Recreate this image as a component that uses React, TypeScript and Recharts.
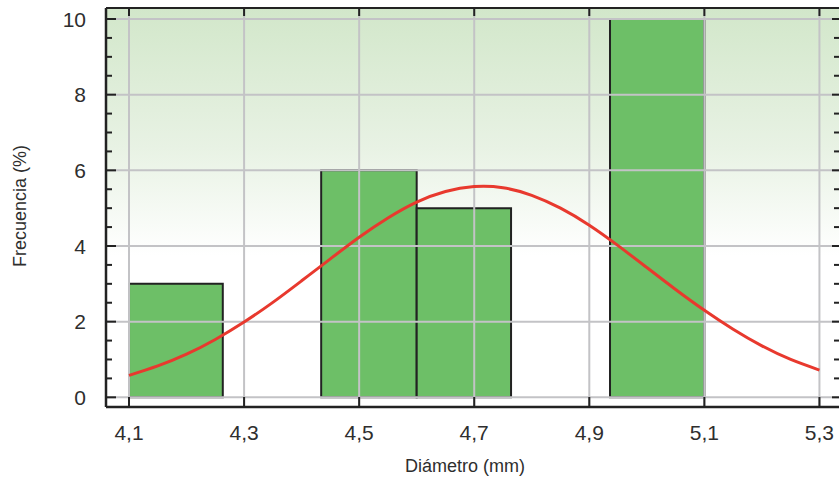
import {
  ComposedChart,
  Label,
  Line,
  ReferenceArea,
  ReferenceLine,
  XAxis,
  YAxis,
} from "recharts";

// diameter axis (mm)
const diamTicks = [4.1, 4.3, 4.5, 4.7, 4.9, 5.1, 5.3];
const diamLabels = ["4,1", "4,3", "4,5", "4,7", "4,9", "5,1", "5,3"];

// frequency axis (%)
const freqTicks = [0, 2, 4, 6, 8, 10];
const freqMinor = [0.5, 1, 1.5, 2.5, 3, 3.5, 4.5, 5, 5.5, 6.5, 7, 7.5, 8.5, 9, 9.5];

// histogram bins
const binStart = [4.1, 4.263, 4.434, 4.6, 4.764, 4.936];
const binEnd = [4.263, 4.434, 4.6, 4.764, 4.936, 5.1];
const binFreq = [3, 0, 6, 5, 0, 10];

// fitted normal curve
const curveDiam = [
  4.1, 4.15, 4.2, 4.25, 4.3, 4.35, 4.4, 4.45, 4.5, 4.55, 4.6, 4.65, 4.7,
  4.75, 4.8, 4.85, 4.9, 4.95, 5.0, 5.05, 5.1, 5.15, 5.2, 5.25, 5.3,
];
const curveFreq = [
  0.58, 0.83, 1.14, 1.53, 1.99, 2.51, 3.08, 3.66, 4.23, 4.74, 5.16, 5.44, 5.57,
  5.54, 5.34, 5.0, 4.55, 4.01, 3.43, 2.85, 2.3, 1.8, 1.36, 1.0, 0.72,
];

const X_MIN = 4.06;
const X_MAX = 5.334;
const Y_MIN = -0.256;
const Y_MAX = 10.291;

// plot box in px (left axis width / top margin / bottom axis height)
const PLOT_LEFT = 106;
const PLOT_TOP = 8;
const PLOT_W = 733;
const PLOT_H = 399;

const FONT = "'Liberation Sans', Arial, sans-serif";
const TEXT = "#2e2e2e";
const FRAME = "#222";
const GRID = "#c3c3c6";

const curveData = curveDiam.map((d, i) => ({ diam: d, freq: curveFreq[i] }));
const allFreqTicks = [...freqTicks, ...freqMinor].sort((a, b) => a - b);

// left tick: inward mark + label, plus the matching mark on the right edge
const LeftTick = (props: any) => {
  const { x, y, payload } = props;
  const major = freqTicks.includes(payload.value);
  const rx = x + PLOT_W;
  return (
    <g>
      <line x1={x} x2={x + (major ? 10 : 6)} y1={y} y2={y} stroke={FRAME} strokeWidth={2} />
      <line x1={rx} x2={rx - (major ? 7 : 5)} y1={y} y2={y} stroke={FRAME} strokeWidth={2} />
      {major && (
        <text x={x - 20} y={y} dy="0.36em" textAnchor="end" fontSize={21} fontFamily={FONT} fill={TEXT}>
          {payload.value}
        </text>
      )}
    </g>
  );
};

// bottom tick: inward mark + label, plus the matching mark on the top edge
const BottomTick = (props: any) => {
  const { x, y, payload } = props;
  const i = diamTicks.indexOf(payload.value);
  return (
    <g>
      <line x1={x} x2={x} y1={y} y2={y - 10} stroke={FRAME} strokeWidth={2} />
      <line x1={x} x2={x} y1={PLOT_TOP} y2={PLOT_TOP + 8} stroke={FRAME} strokeWidth={2} />
      <text x={x} y={y + 25} dy="0.36em" textAnchor="middle" fontSize={21} fontFamily={FONT} fill={TEXT}>
        {diamLabels[i]}
      </text>
    </g>
  );
};

export default function App() {
  return (
    <div style={{ position: "absolute", left: 0, top: 0, background: "#fff" }}>
      <ComposedChart
        width={840}
        height={481}
        data={curveData}
        margin={{ top: PLOT_TOP, right: 840 - PLOT_LEFT - PLOT_W, bottom: 0, left: 0 }}
      >
        <defs>
          <linearGradient id="plotBg" x1="0" y1="0" x2="0" y2="1">
            <stop offset="0" stopColor="#d2e7ca" />
            <stop offset="0.35" stopColor="#e8f2e4" />
            <stop offset="0.62" stopColor="#ffffff" />
            <stop offset="1" stopColor="#ffffff" />
          </linearGradient>
        </defs>

        <XAxis
          dataKey="diam"
          type="number"
          domain={[X_MIN, X_MAX]}
          allowDataOverflow
          ticks={diamTicks}
          interval={0}
          height={481 - PLOT_TOP - PLOT_H}
          tickSize={0}
          tickMargin={0}
          tick={<BottomTick />}
          axisLine={{ stroke: FRAME, strokeWidth: 2.5 }}
        >
          <Label
            content={() => (
              <text
                x={465}
                y={466}
                textAnchor="middle"
                dominantBaseline="central"
                fontSize={18}
                fontFamily={FONT}
                fill={TEXT}
              >
                Diámetro (mm)
              </text>
            )}
          />
        </XAxis>
        <YAxis
          type="number"
          domain={[Y_MIN, Y_MAX]}
          allowDataOverflow
          ticks={allFreqTicks}
          interval={0}
          width={PLOT_LEFT}
          tickSize={0}
          tickMargin={0}
          tick={<LeftTick />}
          axisLine={{ stroke: FRAME, strokeWidth: 2.5 }}
        >
          <Label
            content={() => (
              <text
                transform="translate(20,206) rotate(-90)"
                textAnchor="middle"
                dominantBaseline="central"
                fontSize={18}
                fontFamily={FONT}
                fill={TEXT}
              >
                Frecuencia (%)
              </text>
            )}
          />
        </YAxis>

        <ReferenceArea
          x1={X_MIN}
          x2={X_MAX}
          y1={Y_MIN}
          y2={Y_MAX}
          fill="url(#plotBg)"
          fillOpacity={1}
          stroke="none"
          zIndex={-150}
        />
        {binStart.map((s, i) =>
          binFreq[i] > 0 ? (
            <ReferenceArea
              key={`bin-${i}`}
              x1={s}
              x2={binEnd[i]}
              y1={0}
              y2={binFreq[i]}
              fill="#6dbf67"
              fillOpacity={1}
              stroke={FRAME}
              strokeWidth={2}
              zIndex={200}
            />
          ) : null
        )}
        {diamTicks.map((d) => (
          <ReferenceLine key={`gx-${d}`} x={d} stroke={GRID} strokeWidth={2} zIndex={350} />
        ))}
        {freqTicks.map((f) => (
          <ReferenceLine key={`gy-${f}`} y={f} stroke={GRID} strokeWidth={2} zIndex={350} />
        ))}
        <ReferenceLine y={Y_MAX} stroke={FRAME} strokeWidth={2} zIndex={600} />

        <Line
          dataKey="freq"
          type="natural"
          stroke="#e8392e"
          strokeWidth={3}
          dot={false}
          activeDot={false}
          isAnimationActive={false}
        />
      </ComposedChart>
    </div>
  );
}
